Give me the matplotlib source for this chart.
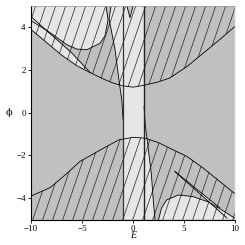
import numpy as np
import matplotlib
matplotlib.use("Agg")
import matplotlib.pyplot as plt
from matplotlib.path import Path
from matplotlib.collections import LineCollection

# --- curves (E, phi) ---
# upper boundary curve
E_up = [-10, -8.5, -7, -5.5, -4.2, -3, -2, -1, 0, 1.2, 2.5, 3.6, 5.3, 6.9, 8.5, 10]
phi_up = [3.9, 3.3, 2.7, 2.2, 1.88, 1.6, 1.4, 1.26, 1.2, 1.3, 1.45, 1.63, 2.17, 2.8, 3.43, 4.05]
# lower boundary curve
E_lo = [-10, -8.1, -6.5, -5.2, -3.2, -1.4, 0, 1.2, 2.5, 3.6, 5.3, 6.9, 8.5, 10]
phi_lo = [-3.9, -3.5, -2.85, -2.28, -1.74, -1.27, -1.15, -1.19, -1.4, -1.66, -2.05, -2.6, -3.22, -3.8]
# upper-left light region edge
E_c1 = [-10, -8.1, -6.5, -5.5, -4.5, -3.24, -2.75, -2.45, -2.65]
phi_c1 = [4.32, 3.74, 3.19, 2.98, 2.96, 3.25, 3.6, 4.35, 5.0]
# lower-right light region edge
E_c2 = [2.5, 2.8, 3.3, 4.45, 5.9, 7.5, 9.2, 10]
phi_c2 = [-5.0, -4.45, -4.08, -3.85, -3.93, -4.2, -4.7, -4.95]
# slanted edges of the central strip
E_s1 = [-2.15, -2.35, -1.76, -1.34, -1.1, -0.98]
phi_s1 = [5.0, 4.4, 2.96, 1.39, 0.6, -0.3]
E_s2 = [1.08, 1.2, 1.42, 1.8, 2.0, 2.15]
phi_s2 = [0.3, -0.6, -1.39, -2.9, -4.2, -5.0]
E_left, E_right = -0.98, 1.08
# thin wedges
E_l1 = [-10, -8, -6, -4.2]
phi_l1 = [4.5, 3.65, 2.8, 1.88]
E_l2 = [4.1, 9.2]
phi_l2 = [-2.75, -4.93]
E_l3 = [4.1, 8.5]
phi_l3 = [-2.75, -4.45]
# small notch at the top
E_n = [-0.6, -0.3, 0.0]
phi_n = [5.0, 4.45, 5.0]

dark = "#c0c0c0"
light = "#e6e6e6"

fig = plt.figure(figsize=(2.45, 2.45), dpi=100)
ax = fig.add_axes([0.1265, 0.104, 0.833, 0.8715])
ax.set_facecolor(dark)
ax.set_xlim(-10, 10)
ax.set_ylim(-5, 5)

# central light strip
cx = E_s1 + [E_left, E_s2[-1]] + E_s2[::-1] + [E_right]
cy = phi_s1 + [-5.0, -5.0] + phi_s2[::-1] + [5.0]
ax.fill(cx, cy, color=light, lw=0)

# upper-left and lower-right light regions
ax.fill([-10] + E_c1, [5.0] + phi_c1, color=light, lw=0)
ax.fill(E_c2 + [10], phi_c2 + [-5.0], color=light, lw=0)

# light wedges
up_part = [(e, p) for e, p in zip(E_up, phi_up) if e <= -4.2]
ax.fill(E_l1 + [e for e, p in up_part[::-1]], phi_l1 + [p for e, p in up_part[::-1]],
        color=light, lw=0)
ax.fill(E_l2 + E_l3[::-1], phi_l2 + phi_l3[::-1], color=light, lw=0)
ax.fill(E_n, phi_n, color=dark, lw=0)

# hatching above upper curve and below lower curve
top = np.column_stack([[-10.5] + E_up + [10.5, 10.5, -10.5, -10.5],
                       [phi_up[0]] + phi_up + [phi_up[-1], 5.5, 5.5, phi_up[0]]])
bot = np.column_stack([[-10.5] + E_lo + [10.5, 10.5, -10.5, -10.5],
                       [phi_lo[0]] + phi_lo + [phi_lo[-1], -5.5, -5.5, phi_lo[0]]])
clip = Path.make_compound_path(Path(top), Path(bot))
slope = 1.4
segs = [[(e0, -5.5), (e0 + 11 / slope, 5.5)] for e0 in np.arange(-19.0, 11.0, 0.98)]
hatch = LineCollection(segs, colors="#222222", linewidths=0.5)
ax.add_collection(hatch)
hatch.set_clip_path(clip, ax.transData)

# outlines
kw = dict(color="black", lw=0.6)
ax.plot(E_up, phi_up, **kw)
ax.plot(E_lo, phi_lo, **kw)
ax.plot(E_c1, phi_c1, **kw)
ax.plot(E_c2, phi_c2, **kw)
ax.plot(E_s1, phi_s1, **kw)
ax.plot(E_s2, phi_s2, **kw)
ax.plot(E_l1, phi_l1, **kw)
ax.plot(E_l2, phi_l2, **kw)
ax.plot(E_l3, phi_l3, **kw)
ax.plot(E_n, phi_n, **kw)
ax.axvline(E_left, color="#333333", lw=0.9)
ax.axvline(E_right, color="#222222", lw=1.0)

ax.spines["top"].set_color("#999999")
ax.spines["top"].set_linewidth(0.5)
ax.spines["right"].set_color("#f2f2f2")
ax.spines["right"].set_linewidth(1.0)
for s in ["left", "bottom"]:
    ax.spines[s].set_linewidth(0.8)

ax.set_xticks([-10, -5, 0, 5, 10])
ax.set_yticks([-4, -2, 0, 2, 4])
ax.tick_params(length=2.5, width=0.6, labelsize=6.5, pad=1.2)
for lab in ax.get_xticklabels() + ax.get_yticklabels():
    lab.set_fontfamily("Liberation Serif")
ax.set_xlabel("E", fontsize=7, fontfamily="Liberation Serif", style="italic", labelpad=-1)
ax.set_ylabel("ϕ", fontsize=7, fontfamily="DejaVu Serif", rotation=0, labelpad=5, va="center")

fig.savefig("out.png", dpi=100)
